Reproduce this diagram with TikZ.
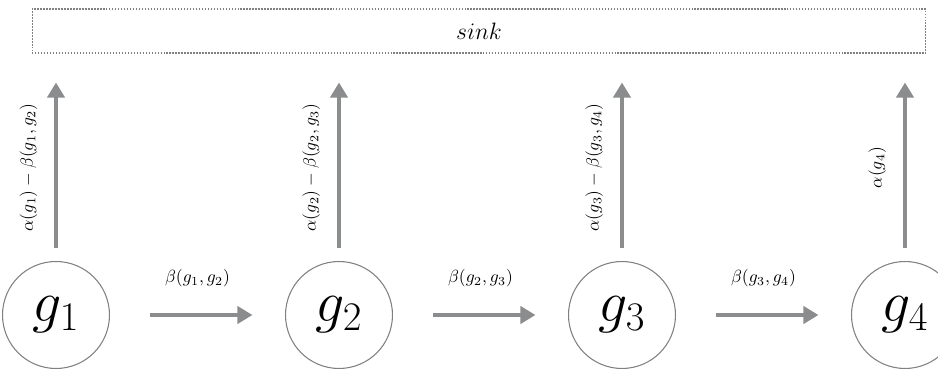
\RequirePackage{fix-cm}
\documentclass[tikz,border=0pt]{standalone}
\usepackage{amsmath}
\usetikzlibrary{positioning,arrows.meta}
\definecolor{arrowgray}{RGB}{138,140,142}
\definecolor{ringgray}{RGB}{128,128,128}

\begin{document}
\begin{tikzpicture}[
    x=0.02cm, y=0.02cm,
    state/.style={draw=ringgray, line width=0.6pt, circle, minimum size=2.14cm, inner sep=0pt, font=\fontsize{33}{36}\selectfont},
    sinkbox/.style={draw=ringgray, line width=0.6pt, dash pattern=on 0.8pt off 0.9pt, minimum width=17.88cm, minimum height=0.88cm, font=\fontsize{13.5}{16}\selectfont},
    arr/.style={-{Triangle[length=3mm, width=3.4mm]}, line width=2.8pt, draw=arrowgray},
    flow/.style={arr, shorten <=0.8cm, shorten >=0.65cm},
    up/.style={arr, shorten <=0.26cm, shorten >=0.58cm},
    node distance=3.5cm
]
\useasboundingbox (0,0) rectangle (938,369);

\node[sinkbox] (sink) at (479,338) {$sink$};

\node[state] (g1) at (56,54) {$g_1$};
\node[state, right=of g1] (g2) {$g_2$};
\node[state, right=of g2] (g3) {$g_3$};
\node[state, right=of g3] (g4) {$g_4$};

\draw[flow] (g1) -- (g2) node[midway, above=11pt] {$\beta(g_1, g_2)$};
\draw[flow] (g2) -- (g3) node[midway, above=11pt] {$\beta(g_2, g_3)$};
\draw[flow] (g3) -- (g4) node[midway, above=11pt] {$\beta(g_3, g_4)$};

\draw[up] (g1.north) -- (g1.north |- sink.south) node[pos=0.45, sloped, above=6pt] {$\alpha(g_1) - \beta(g_1, g_2)$};
\draw[up] (g2.north) -- (g2.north |- sink.south) node[pos=0.45, sloped, above=6pt] {$\alpha(g_2) - \beta(g_2, g_3)$};
\draw[up] (g3.north) -- (g3.north |- sink.south) node[pos=0.45, sloped, above=6pt] {$\alpha(g_3) - \beta(g_3, g_4)$};
\draw[up] (g4.north) -- (g4.north |- sink.south) node[pos=0.45, sloped, above=6pt] {$\alpha(g_4)$};

\end{tikzpicture}
\end{document}
